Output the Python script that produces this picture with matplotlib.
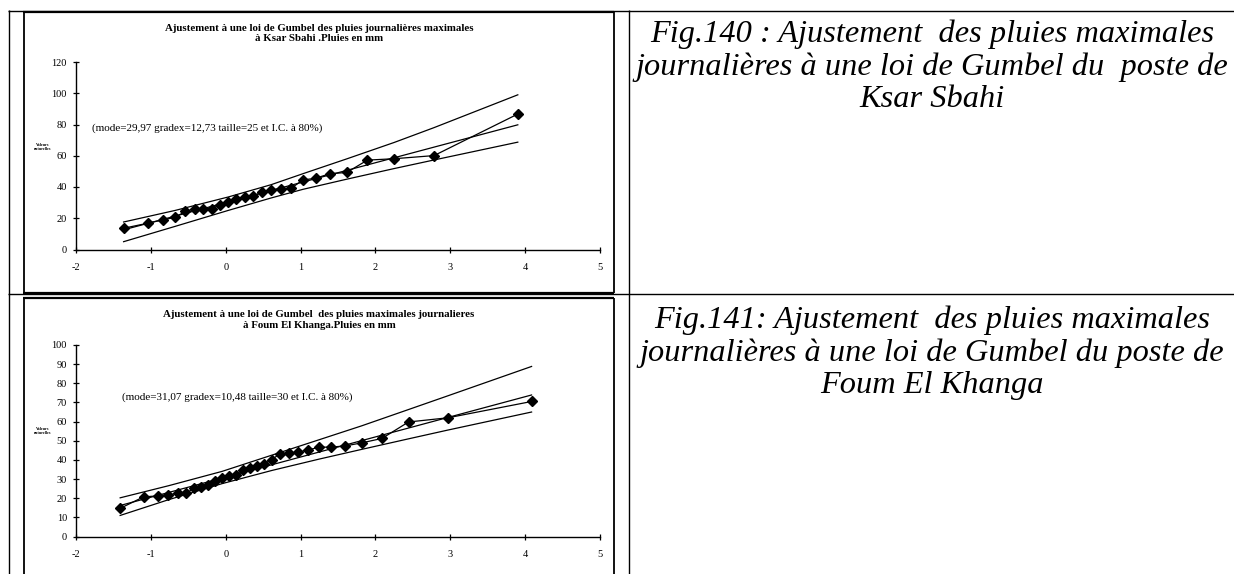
import matplotlib
matplotlib.use('Agg')
import matplotlib.pyplot as plt
from matplotlib.lines import Line2D

W, H = 1234, 574
DPI = 100
plt.rcParams['font.family'] = ['Liberation Serif', 'DejaVu Serif']
plt.rcParams['axes.unicode_minus'] = False

# ---------------- Chart 1 : Ksar Sbahi ----------------
ks_u = [-1.364, -1.034, -0.834, -0.676, -0.539, -0.415, -0.298, -0.186, -0.076,
        0.033, 0.142, 0.253, 0.367, 0.485, 0.608, 0.738, 0.877, 1.031, 1.200,
        1.392, 1.617, 1.892, 2.250, 2.783, 3.902]
ks_obs = [13.6, 16.9, 19.0, 20.6, 24.4, 26.1, 26.1, 26.1, 28.6, 30.5, 32.4, 33.5,
          34.2, 36.6, 38.1, 38.8, 39.3, 44.5, 45.6, 48.5, 49.3, 57.2, 58.1, 60.1, 86.7]
ks_fit_u = [-1.364, 3.902]
ks_fit = [12.6, 79.8]
ks_band_u = [-1.364, -0.676, 0.033, 0.608, 1.031, 1.617, 2.250, 2.783, 3.902]
ks_upper = [17.6, 25.0, 33.6, 41.5, 48.5, 58.0, 68.5, 78.0, 99.0]
ks_lower = [5.0, 14.8, 25.0, 33.0, 38.5, 45.0, 51.8, 57.3, 68.7]

# ---------------- Chart 2 : Foum El Khanga ----------------
fk_u = [-1.410, -1.097, -0.910, -0.765, -0.640, -0.529, -0.425, -0.327, -0.232,
        -0.140, -0.049, 0.042, 0.133, 0.225, 0.319, 0.415, 0.515, 0.618, 0.727,
        0.842, 0.966, 1.099, 1.246, 1.410, 1.597, 1.817, 2.087, 2.442, 2.970, 4.086]
fk_obs = [14.7, 20.7, 21.2, 21.8, 22.5, 22.6, 25.1, 25.6, 27.1, 29.1, 30.3, 31.5,
          32.3, 34.8, 35.6, 36.7, 38.0, 40.2, 43.3, 43.5, 44.0, 45.2, 46.6, 46.7,
          47.3, 48.9, 51.2, 59.8, 62.0, 70.5]
fk_fit_u = [-1.410, 4.086]
fk_fit = [16.2, 73.9]
fk_band_u = [-1.410, -0.765, -0.049, 0.618, 1.246, 1.817, 2.442, 2.970, 4.086]
fk_upper = [20.2, 26.5, 34.0, 42.5, 50.5, 57.8, 66.3, 73.5, 88.8]
fk_lower = [11.0, 19.2, 27.6, 34.5, 40.4, 45.5, 51.0, 55.6, 65.0]

x_ticks = [-2, -1, 0, 1, 2, 3, 4, 5]
ks_yticks = [0, 20, 40, 60, 80, 100, 120]
fk_yticks = [0, 10, 20, 30, 40, 50, 60, 70, 80, 90, 100]

ks_title = "Ajustement à une loi de Gumbel des pluies journalières maximales\nà Ksar Sbahi .Pluies en mm"
fk_title = "Ajustement à une loi de Gumbel  des pluies maximales journalieres\nà Foum El Khanga.Pluies en mm"
ks_note = "(mode=29,97 gradex=12,73 taille=25 et I.C. à 80%)"
fk_note = "(mode=31,07 gradex=10,48 taille=30 et I.C. à 80%)"
ylab = "Valeurs\nnaturelles"
cap1 = "Fig.140 : Ajustement  des pluies maximales\njournalières à une loi de Gumbel du  poste de\nKsar Sbahi"
cap2 = "Fig.141: Ajustement  des pluies maximales\njournalières à une loi de Gumbel du poste de\nFoum El Khanga"

fig = plt.figure(figsize=(W / DPI, H / DPI), dpi=DPI)


def fx(x):
    return x / W


def fy(y):
    return 1 - y / H


def hline(y, x0, x1, lw=1.0):
    fig.add_artist(Line2D([fx(x0), fx(x1)], [fy(y), fy(y)], color='black', lw=lw,
                          transform=fig.transFigure, solid_capstyle='butt'))


def vline(x, y0, y1, lw=1.0):
    fig.add_artist(Line2D([fx(x), fx(x)], [fy(y0), fy(y1)], color='black', lw=lw,
                          transform=fig.transFigure, solid_capstyle='butt'))


# table frame
hline(10.5, 8, W, 1.0)
vline(8.5, 10, H, 1.0)
vline(629, 10, H, 1.0)
hline(294.5, 8, W, 1.0)
# chart boxes
for (top, bot) in [(11.5, 293), (297.5, H + 5)]:
    hline(top, 23, 614, 1.6)
    if bot < H:
        hline(bot, 23, 614, 1.6)
    vline(23.5, top, bot, 1.3)
    vline(614, top, bot, 1.3)


def make_chart(rect, u, obs, fu, fit, bu, up, lo, yticks, ymax, title, title_y, note, note_xy, ylab_y):
    ax = fig.add_axes(rect)
    ax.plot(bu, up, color='black', lw=0.9)
    ax.plot(bu, lo, color='black', lw=0.9)
    ax.plot(fu, fit, color='black', lw=0.9)
    ax.plot(u, obs, color='black', lw=0.9, marker='D', ms=5.6, mfc='black', mec='black')
    ax.set_xlim(-2, 5)
    ax.set_ylim(0, ymax)
    ax.set_xticks(x_ticks)
    ax.set_yticks(yticks)
    for s in ['top', 'right']:
        ax.spines[s].set_visible(False)
    for s in ['left', 'bottom']:
        ax.spines[s].set_linewidth(1.0)
    ax.tick_params(direction='inout', length=5, width=0.9, labelsize=7.5)
    ax.tick_params(axis='x', pad=7)
    ax.tick_params(axis='y', pad=4)
    ax.patch.set_alpha(0)
    ax.text(note_xy[0], note_xy[1], note, fontsize=8.0, ha='left', va='center')
    fig.text(fx(319), fy(title_y), title, fontsize=7.8, fontweight='bold', ha='center',
             va='center', linespacing=1.2)
    fig.text(fx(43), fy(ylab_y), ylab, fontsize=3, fontweight='bold', ha='center',
             va='center', linespacing=1.1)
    return ax


ax1 = make_chart([fx(76), fy(249.5), fx(600) - fx(76), fy(62) - fy(249.5)],
                 ks_u, ks_obs, ks_fit_u, ks_fit, ks_band_u, ks_upper, ks_lower,
                 ks_yticks, 120, ks_title, 33.5, ks_note, (-1.79, 77.7), 147)
ax2 = make_chart([fx(76), fy(536.5), fx(600) - fx(76), fy(345) - fy(536.5)],
                 fk_u, fk_obs, fk_fit_u, fk_fit, fk_band_u, fk_upper, fk_lower,
                 fk_yticks, 100, fk_title, 320, fk_note, (-1.39, 73), 431)

fig.text(fx(932), fy(67), cap1, fontsize=23.3, style='italic', ha='center', va='center',
         linespacing=1.15)
fig.text(fx(932), fy(353), cap2, fontsize=23.3, style='italic', ha='center', va='center',
         linespacing=1.15)

fig.savefig('out.png', dpi=DPI)
